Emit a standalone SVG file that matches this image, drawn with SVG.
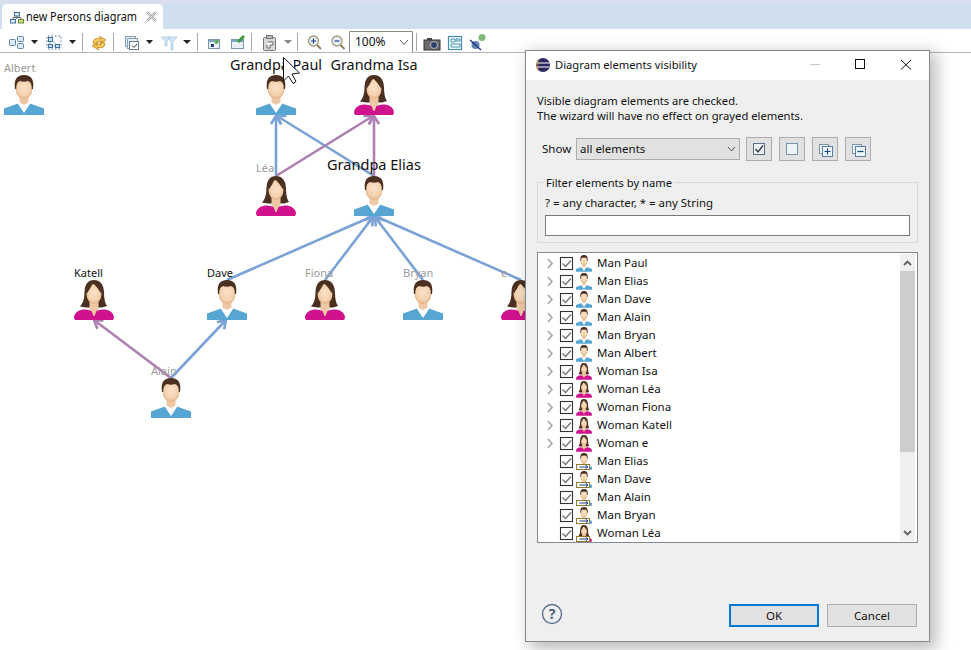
<svg xmlns="http://www.w3.org/2000/svg" xmlns:xlink="http://www.w3.org/1999/xlink" width="971" height="650" viewBox="0 0 971 650">
<style>
text{font-family:"Noto Sans","Open Sans","Liberation Sans",sans-serif;font-size:11.5px;fill:#111}
.grey{fill:#9b9b9b}
.big{font-size:15px;text-anchor:middle;fill:#111}
.lbl{font-size:11px}
.conn{fill:none;stroke-width:2.6}
.blue{stroke:#7aa2d6;marker-end:url(#ab)}
.pur{stroke:#ae7fb1;marker-end:url(#ap)}
.sep{stroke:#a8a8a8;stroke-width:1}
.tri{fill:#222}
.btn{fill:#e1e1e1;stroke:#adadad}
.cb{fill:#fff;stroke:#333;stroke-width:1.1}
.ck{fill:none;stroke:#777;stroke-width:1.4}
.chev{fill:none;stroke:#a6a6a6;stroke-width:1.6}
.ic{fill:none;stroke:#5a83ad;stroke-width:1}
</style>
<defs>
<radialGradient id="skin" cx="0.5" cy="0.45" r="0.6"><stop offset="0" stop-color="#f9e2c9"/><stop offset="0.65" stop-color="#f3d2ae"/><stop offset="1" stop-color="#dca578"/></radialGradient>
<filter id="sh" x="-10%" y="-10%" width="120%" height="120%"><feGaussianBlur stdDeviation="8"/></filter>
<marker id="ab" markerUnits="userSpaceOnUse" markerWidth="18" markerHeight="18" viewBox="-13 -9 18 18" refX="0" refY="0" orient="auto"><path d="M-8,-5 L0,0 L-8,5" fill="none" stroke="#7aa2d6" stroke-width="2.6"/></marker>
<marker id="ap" markerUnits="userSpaceOnUse" markerWidth="18" markerHeight="18" viewBox="-13 -9 18 18" refX="0" refY="0" orient="auto"><path d="M-8,-5 L0,0 L-8,5" fill="none" stroke="#ae7fb1" stroke-width="2.6"/></marker>
<g id="man">
<path d="M0 40V33.500L14 28.500H26L40 33.500V40Z" fill="#56a5d2"/>
<path d="M14 25H26V29L20 38L14 29Z" fill="#fff"/>
<path d="M15.500 20H24.500V27.500L20 30L15.500 27.500Z" fill="#efc9a5"/>
<ellipse cx="20" cy="13.500" rx="8.500" ry="10.500" fill="url(#skin)"/>
<path d="M11 14Q9 0 20 0Q31 0 29 14L27.800 14Q28 7 24 6Q20 7.500 16 6Q12 7 12.200 14Z" fill="#4b2f20"/>
</g>
<g id="woman">
<path d="M20 0Q11 0 10.500 12Q10.500 22 6 26.500L12 27.500H28L33 26Q30 22 30 12Q29 0 20 0Z" fill="#4b2f20"/>
<path d="M15.500 20H24.500V36H15.500Z" fill="#efc9a5"/>
<ellipse cx="20" cy="14" rx="7.500" ry="10" fill="url(#skin)"/>
<path d="M12.500 14Q12 6 19 3Q16 9 12.500 14Z M19 3Q27 3 27.500 14Q24 8 19 3Z" fill="#4b2f20"/>
<path d="M0 38Q0 31 9 29.500Q14 29 17.500 31L19.500 36H20.500L22.500 31Q26 29 31 29.500Q40 31 40 38L39 40H1Z" fill="#d1128d"/>
</g>
<g id="minor"><rect x="0" y="0" width="13" height="5" fill="#fff" stroke="#8d7a2e"/><path d="M3 2.500H11M9 0.500L11.500 2.500L9 4.500" fill="none" stroke="#1f3f7a"/></g>
<path id="check" class="ck" d="M2.500 6.500L5.500 9.500L11 3.500"/>
<clipPath id="listclip"><rect x="538" y="253" width="362" height="289"/></clipPath>
</defs>
<rect width="971" height="650" fill="#fff"/>
<g id="tabbar">
<rect width="971" height="4" fill="#dadcef"/>
<rect y="4" width="971" height="25" fill="#cfdfef"/>
<path d="M2 29V9Q2 4 7 4H158Q163 4 163 9V29Z" fill="#fff"/>
<path d="M17 16V19M13 19V17.500H21V19" fill="none" stroke="#666"/>
<rect x="14.500" y="12.500" width="5" height="3.500" fill="#dfeaf6" stroke="#3f6f9f"/><rect x="10.500" y="19.500" width="5" height="3.500" fill="#dfeaf6" stroke="#3f6f9f"/><rect x="18.500" y="19.500" width="5" height="3.500" fill="#e2d67a" stroke="#5e8f3a"/>
<text x="26" y="21" style="font-size:12px" textLength="111" lengthAdjust="spacingAndGlyphs">new Persons diagram</text>
<path d="M147 12L156 21M156 12L147 21" stroke="#9a9a9a" stroke-width="2.4"/><path d="M147 12L156 21M156 12L147 21" stroke="#fff" stroke-width="0.8"/>
</g>
<g id="toolbar">
<rect y="29" width="971" height="23" fill="#fff"/>
<rect y="52" width="971" height="1" fill="#b5b5b5"/>
<g class="ic"><rect x="9.500" y="39.500" width="6" height="6" rx="1" fill="#dfeaf6"/><rect x="17.500" y="36.500" width="6" height="5" rx="1" fill="#dfeaf6"/><rect x="17.500" y="43.500" width="6" height="5" rx="1" fill="#dfeaf6"/></g>
<path class="tri" d="M31 40H38L34.500 44Z"/>
<path d="M48 36H62M48 49H62M47 37V48M61 37V48" fill="none" stroke="#3f6f9f" stroke-dasharray="1.500 2"/><path d="M50 39L58 46M50 39V46H58" fill="none" stroke="#8aa8c4"/><g fill="#cfe0f0" stroke="#3f6f9f"><rect x="48.500" y="37.500" width="4" height="4"/><rect x="48.500" y="44.500" width="4" height="3"/><rect x="55.500" y="44.500" width="4" height="3"/></g>
<path class="tri" d="M69 40H76L72.500 44Z"/>
<path class="sep" d="M82.500 33V51M113.500 33V51M197.500 33V51M251.500 33V51M297.500 33V51M416.500 33V51"/>
<path d="M93 43Q93 37 101 38.500L99 36L106 40L100 44L101 41.500Q97 41 96 46ZM105 43.500Q105 49 97 47.500L99 50L92 46L98 42L97 44.500Q101 45 102 41Z" fill="#f4c558" stroke="#b9801e" stroke-width="0.7"/>
<g fill="#e9eff6" stroke="#8aa0b5"><rect x="125.500" y="36.500" width="10" height="10"/><rect x="127.500" y="38.500" width="10" height="10"/><rect x="129.500" y="41.500" width="9" height="8" fill="#fff" stroke="#6b7d90"/></g><path d="M132 45.500L134 47.500L137 44" fill="none" stroke="#334"/>
<path class="tri" d="M146 40H153L149.500 44Z"/>
<path d="M161 37H170L167 41V46H165V41ZM168 37H177L173 42V50H171V42Z" fill="#d4e6f3" stroke="#a8cadf" stroke-width="0.8"/>
<path class="tri" d="M183 40H191L187 44Z"/>
<rect x="208.500" y="39.500" width="11" height="9" fill="#eaf1f8" stroke="#7a96b0"/><rect x="209" y="40" width="10" height="2" fill="#7fa6c8"/><circle cx="216.500" cy="42" r="2" fill="#5fb050"/><rect x="211" y="44" width="3" height="3" fill="#1f3f8a"/>
<rect x="231.500" y="39.500" width="12" height="9" fill="#eaf1f8" stroke="#7a96b0"/><rect x="232" y="40" width="11" height="2" fill="#7fa6c8"/><path d="M238 42L244 36" stroke="#3e9a40" stroke-width="3"/>
<rect x="263.500" y="37.500" width="12" height="13" rx="1" fill="#d8d8d8" stroke="#777"/><rect x="266.500" y="35.500" width="6" height="3" fill="#bbb" stroke="#777"/><path d="M268 42H273V45H270V48H267V45" fill="#fff" stroke="#666"/>
<path d="M284 40H292L288 44Z" fill="#8a8a8a"/>
<circle cx="313.500" cy="41" r="5" fill="#e8f0f8" stroke="#a89a78" stroke-width="1.300"/><path d="M311 41H316M313.500 38.500V43.500" stroke="#20408a" stroke-width="1.200"/><path d="M317 45L321 49" stroke="#8a7a58" stroke-width="1.800"/>
<circle cx="337" cy="41" r="5" fill="#e8f0f8" stroke="#a89a78" stroke-width="1.300"/><path d="M334.500 41H339.500" stroke="#20408a" stroke-width="1.200"/><path d="M340.500 45L344.500 49" stroke="#8a7a58" stroke-width="1.800"/>
<path d="M349.500 52.500V31.500H412.500V52.500" fill="#fff" stroke="#8a8a8a"/>
<text x="355" y="46" style="font-size:12px">100%</text>
<path d="M400 40L404 44.500L408 40" fill="none" stroke="#555"/>
<rect x="424" y="40" width="16" height="10" fill="#6c6c6c" stroke="#333"/><rect x="427" y="38" width="5" height="2" fill="#444"/><circle cx="434" cy="45" r="3.500" fill="#2a3f6a" stroke="#bbb"/>
<rect x="448.500" y="36.500" width="13" height="13" fill="#fff" stroke="#3d8fb5" stroke-width="1.200"/><path d="M451 39H455V42H451ZM456 39H460V41H456ZM451 44H460V47H451Z" fill="none" stroke="#3d8fb5"/>
<circle cx="475.500" cy="45" r="4" fill="#5f86b5"/><circle cx="482" cy="37.500" r="3.500" fill="#7fb878"/><path d="M470 40L481 50" stroke="#1f2f80" stroke-width="1.300"/>
</g>
<g id="connectors">
<path class="conn blue" d="M276 176V116"/>
<path class="conn blue" d="M374 176L277 116"/>
<path class="conn pur" d="M276 176L373 116"/>
<path class="conn pur" d="M374 176V116"/>
<path class="conn blue" d="M227 280L373 216"/>
<path class="conn blue" d="M325 280L373 217"/>
<path class="conn blue" d="M423 280L375 217"/>
<path class="conn blue" d="M521 280L375 216"/>
<path class="conn pur" d="M171 378L94 320"/>
<path class="conn blue" d="M171 378L226 320"/>
</g>
<g id="node-albert"><use href="#man" x="4" y="75"/><text class="lbl grey" x="4" y="72">Albert</text></g>
<g id="node-paul"><use href="#man" x="256" y="75"/><text class="big" x="276" y="70" textLength="92" lengthAdjust="spacingAndGlyphs">Grandpa Paul</text></g>
<g id="node-isa"><use href="#woman" x="354" y="75"/><text class="big" x="374" y="70" textLength="87" lengthAdjust="spacingAndGlyphs">Grandma Isa</text></g>
<g id="node-lea"><use href="#woman" x="256" y="176"/><text class="lbl grey" x="256" y="172">Léa</text></g>
<g id="node-elias"><use href="#man" x="354" y="176"/><text class="big" x="374" y="170" textLength="94" lengthAdjust="spacingAndGlyphs">Grandpa Elias</text></g>
<g id="node-katell"><use href="#woman" x="74" y="280"/><text class="lbl" x="74" y="277">Katell</text></g>
<g id="node-dave"><use href="#man" x="207" y="280"/><text class="lbl" x="207" y="277">Dave</text></g>
<g id="node-fiona"><use href="#woman" x="305" y="280"/><text class="lbl grey" x="305" y="277">Fiona</text></g>
<g id="node-bryan"><use href="#man" x="403" y="280"/><text class="lbl grey" x="403" y="277">Bryan</text></g>
<g id="node-e"><use href="#woman" x="501" y="280"/><text class="lbl grey" x="501" y="277">e</text></g>
<g id="node-alain"><use href="#man" x="151" y="378"/><text class="lbl grey" x="151" y="375">Alain</text></g>
<g id="cursor"><rect x="283" y="55" width="11" height="16" fill="#fff"/><path d="M283.500 57.500V81L288.500 76L293 83.500L296 81.500L292 74L299.500 73Z" fill="#fff" stroke="#111"/></g>
<g id="dialog">
<rect x="529" y="52" width="408" height="598" fill="#000" opacity="0.25" filter="url(#sh)"/>
<rect x="525.500" y="50.500" width="404" height="591" fill="#efefef" stroke="#7f8790"/>
<rect x="526" y="51" width="403" height="29" fill="#fff"/>
<circle cx="543" cy="65" r="7" fill="#2c2860"/><path d="M536.500 63H549.500M536.500 67H549.500" stroke="#fff" stroke-width="1.200"/><path d="M538 60Q536 65 538 70" fill="none" stroke="#f09a30"/>
<text x="555" y="69" textLength="142" lengthAdjust="spacingAndGlyphs">Diagram elements visibility</text>
<path d="M810 64.500H820" stroke="#c8c8c8"/><rect x="855.500" y="59.500" width="9" height="9" fill="none" stroke="#111"/><path d="M901 60L911 69.500M911 60L901 69.500" stroke="#111"/>
<text x="537" y="105" textLength="201" lengthAdjust="spacingAndGlyphs">Visible diagram elements are checked.</text>
<text x="537" y="120" textLength="266" lengthAdjust="spacingAndGlyphs">The wizard will have no effect on grayed elements.</text>
<text x="542" y="153">Show</text>
<rect class="btn" x="576.500" y="138.500" width="163" height="21"/><text x="580" y="153">all elements</text><path d="M728 147L731.500 151L735 147" fill="none" stroke="#555"/>
<rect class="btn" x="746.500" y="137.500" width="25" height="23"/><rect x="753.500" y="143.500" width="11" height="11" fill="#eef3f8" stroke="#5a6f8a"/><path d="M755.500 149L758 152L763 145.500" fill="none" stroke="#334" stroke-width="1.300"/>
<rect class="btn" x="779.500" y="137.500" width="25" height="23"/><rect x="786.500" y="143.500" width="11" height="11" fill="#eef3f8" stroke="#7a94b0"/>
<rect class="btn" x="812.500" y="137.500" width="25" height="23"/><rect x="819.500" y="144.500" width="9" height="9" fill="#eef3f8" stroke="#7a94b0"/><rect x="822.500" y="146.500" width="10" height="10" fill="#eef3f8" stroke="#5a7fa8"/><path d="M824.500 151.500H830.500M827.500 148.500V154.500" stroke="#0f4f80" stroke-width="1.200"/>
<rect class="btn" x="845.500" y="137.500" width="25" height="23"/><rect x="852.500" y="144.500" width="9" height="9" fill="#eef3f8" stroke="#7a94b0"/><rect x="855.500" y="146.500" width="10" height="10" fill="#eef3f8" stroke="#5a7fa8"/><path d="M857.500 151.500H863.500" stroke="#0f4f80" stroke-width="1.200"/>
<rect x="537.500" y="182.500" width="380" height="60" fill="none" stroke="#d9d9d9"/>
<rect x="544" y="176" width="130" height="12" fill="#efefef"/>
<text x="546" y="187" textLength="126" lengthAdjust="spacingAndGlyphs">Filter elements by name</text>
<text x="545" y="207" textLength="168" lengthAdjust="spacingAndGlyphs">? = any character, * = any String</text>
<rect x="545.500" y="215.500" width="364" height="20" fill="#fff" stroke="#7a7a7a"/>
<rect x="537.500" y="252.500" width="380" height="290" fill="#fff" stroke="#828790"/>
<g id="tree" clip-path="url(#listclip)">
<g class="chev"><path d="M548 259L552 263.500L548 268M548 277L552 281.500L548 286M548 295L552 299.500L548 304M548 313L552 317.500L548 322M548 331L552 335.500L548 340M548 349L552 353.500L548 358M548 367L552 371.500L548 376M548 385L552 389.500L548 394M548 403L552 407.500L548 412M548 421L552 425.500L548 430M548 439L552 443.500L548 448"/></g>
<g id="r0"><rect class="cb" x="560.500" y="257.500" width="12" height="12"/><use href="#check" x="560" y="257"/><use href="#man" transform="translate(576 255) scale(0.4 0.42)"/><text x="597" y="267">Man Paul</text></g>
<g id="r1"><rect class="cb" x="560.500" y="275.500" width="12" height="12"/><use href="#check" x="560" y="275"/><use href="#man" transform="translate(576 273) scale(0.4 0.42)"/><text x="597" y="285">Man Elias</text></g>
<g id="r2"><rect class="cb" x="560.500" y="293.500" width="12" height="12"/><use href="#check" x="560" y="293"/><use href="#man" transform="translate(576 291) scale(0.4 0.42)"/><text x="597" y="303">Man Dave</text></g>
<g id="r3"><rect class="cb" x="560.500" y="311.500" width="12" height="12"/><use href="#check" x="560" y="311"/><use href="#man" transform="translate(576 309) scale(0.4 0.42)"/><text x="597" y="321">Man Alain</text></g>
<g id="r4"><rect class="cb" x="560.500" y="329.500" width="12" height="12"/><use href="#check" x="560" y="329"/><use href="#man" transform="translate(576 327) scale(0.4 0.42)"/><text x="597" y="339">Man Bryan</text></g>
<g id="r5"><rect class="cb" x="560.500" y="347.500" width="12" height="12"/><use href="#check" x="560" y="347"/><use href="#man" transform="translate(576 345) scale(0.4 0.42)"/><text x="597" y="357">Man Albert</text></g>
<g id="r6"><rect class="cb" x="560.500" y="365.500" width="12" height="12"/><use href="#check" x="560" y="365"/><use href="#woman" transform="translate(576 363) scale(0.4 0.42)"/><text x="597" y="375">Woman Isa</text></g>
<g id="r7"><rect class="cb" x="560.500" y="383.500" width="12" height="12"/><use href="#check" x="560" y="383"/><use href="#woman" transform="translate(576 381) scale(0.4 0.42)"/><text x="597" y="393">Woman Léa</text></g>
<g id="r8"><rect class="cb" x="560.500" y="401.500" width="12" height="12"/><use href="#check" x="560" y="401"/><use href="#woman" transform="translate(576 399) scale(0.4 0.42)"/><text x="597" y="411">Woman Fiona</text></g>
<g id="r9"><rect class="cb" x="560.500" y="419.500" width="12" height="12"/><use href="#check" x="560" y="419"/><use href="#woman" transform="translate(576 417) scale(0.4 0.42)"/><text x="597" y="429">Woman Katell</text></g>
<g id="r10"><rect class="cb" x="560.500" y="437.500" width="12" height="12"/><use href="#check" x="560" y="437"/><use href="#woman" transform="translate(576 435) scale(0.4 0.42)"/><text x="597" y="447">Woman e</text></g>
<g id="r11"><rect class="cb" x="560.500" y="455.500" width="12" height="12"/><use href="#check" x="560" y="455"/><use href="#man" transform="translate(576 453) scale(0.4 0.42)"/><use href="#minor" x="576.500" y="464.500"/><text x="597" y="465">Man Elias</text></g>
<g id="r12"><rect class="cb" x="560.500" y="473.500" width="12" height="12"/><use href="#check" x="560" y="473"/><use href="#man" transform="translate(576 471) scale(0.4 0.42)"/><use href="#minor" x="576.500" y="482.500"/><text x="597" y="483">Man Dave</text></g>
<g id="r13"><rect class="cb" x="560.500" y="491.500" width="12" height="12"/><use href="#check" x="560" y="491"/><use href="#man" transform="translate(576 489) scale(0.4 0.42)"/><use href="#minor" x="576.500" y="500.500"/><text x="597" y="501">Man Alain</text></g>
<g id="r14"><rect class="cb" x="560.500" y="509.500" width="12" height="12"/><use href="#check" x="560" y="509"/><use href="#man" transform="translate(576 507) scale(0.4 0.42)"/><use href="#minor" x="576.500" y="518.500"/><text x="597" y="519">Man Bryan</text></g>
<g id="r15"><rect class="cb" x="560.500" y="527.500" width="12" height="12"/><use href="#check" x="560" y="527"/><use href="#woman" transform="translate(576 525) scale(0.4 0.42)"/><use href="#minor" x="576.500" y="536.500"/><text x="597" y="537">Woman Léa</text></g>
</g>
<rect x="900" y="254" width="15" height="287" fill="#f0f0f0"/>
<rect x="900" y="271" width="15" height="181" fill="#cdcdcd"/>
<path d="M904 265L907.500 261.500L911 265M904 531L907.500 534.500L911 531" fill="none" stroke="#606060" stroke-width="1.800"/>
<circle cx="552" cy="614" r="9.500" fill="none" stroke="#5f6f8f" stroke-width="1.400"/>
<text x="552" y="619" text-anchor="middle" style="font-size:14px;font-weight:700;fill:#4f5f7f">?</text>
<rect x="730" y="605" width="88" height="21" fill="#e1e1e1" stroke="#0078d7" stroke-width="2"/>
<text x="774" y="620" text-anchor="middle">OK</text>
<rect class="btn" x="827.500" y="604.500" width="89" height="22"/>
<text x="872" y="620" text-anchor="middle">Cancel</text>
</g>
</svg>
